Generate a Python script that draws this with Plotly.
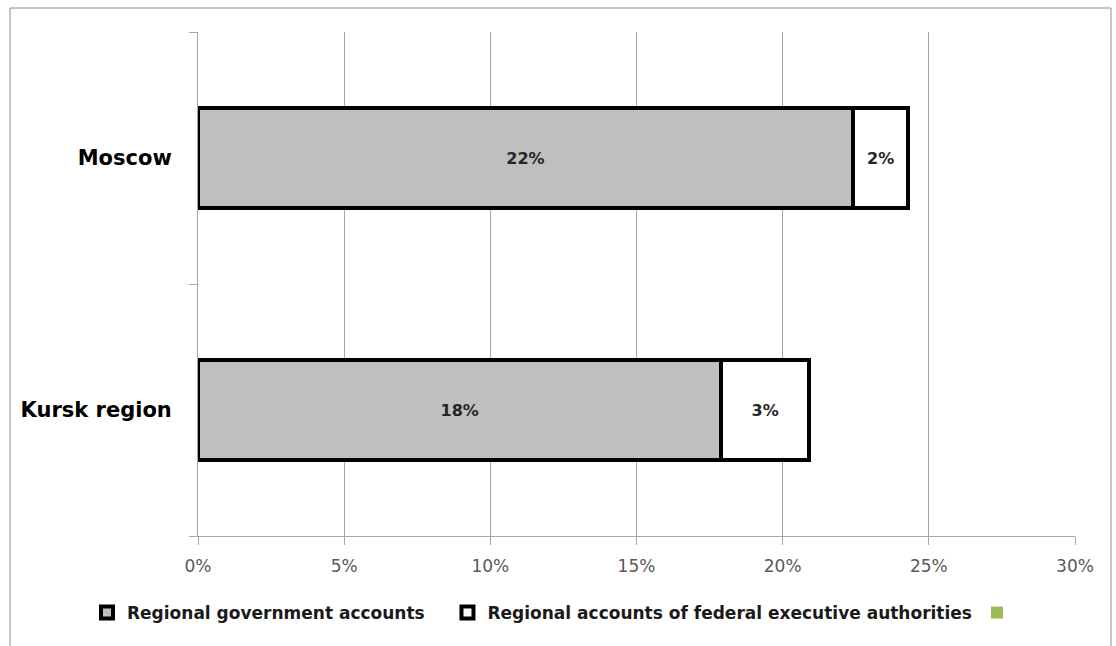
import plotly.graph_objects as go

# Share of accounts by region (fractions of total)
regions = ["Kursk region", "Moscow"]
gov_accounts = [0.179, 0.224]
federal_accounts = [0.030, 0.019]
x_ticks = [0, 0.05, 0.10, 0.15, 0.20, 0.25, 0.30]
x_tick_labels = ["0%", "5%", "10%", "15%", "20%", "25%", "30%"]
series_names = [
    "Regional government accounts",
    "Regional accounts of federal executive authorities",
]

FONT = "DejaVu Sans"
PAD = "\u00a0" * 3  # extra room after the first legend entry
L, R, T, B = 198, 41, 32, 110
W, H = 1116, 646
pw, ph = W - L - R, H - T - B

def px_x(p):
    return (p - L) / pw

def px_y(p):
    return (H - B - p) / ph

label_font = dict(family=FONT, size=16, color="#262626", weight="bold")

fig = go.Figure()
fig.add_trace(go.Bar(
    y=regions, x=gov_accounts, orientation="h",
    name=series_names[0] + PAD,
    marker=dict(color="#BFBFBF", line=dict(color="#000000", width=4)),
    text=[f"{v*100:.0f}%" for v in gov_accounts],
    textposition="inside", insidetextanchor="middle",
    textfont=label_font,
))
fig.add_trace(go.Bar(
    y=regions, x=federal_accounts, orientation="h",
    name=series_names[1],
    marker=dict(color="#FFFFFF", line=dict(color="#000000", width=4)),
    text=[f"{v*100:.0f}%" for v in federal_accounts],
    textposition="inside", insidetextanchor="middle",
    textfont=label_font,
))
fig.add_trace(go.Bar(
    y=[regions[0]], x=[None], orientation="h", name=" ",
    marker=dict(color="#9BBB59", line=dict(width=0)),
    showlegend=True,
))

fig.update_layout(
    width=W, height=H,
    barmode="stack", bargap=0.6,
    paper_bgcolor="white", plot_bgcolor="white",
    margin=dict(l=L, r=R, t=T, b=B),
    font=dict(family=FONT),
    xaxis=dict(
        range=[0, 0.30], tickvals=x_ticks, ticktext=x_tick_labels,
        showgrid=True, gridcolor="#A6A6A6", gridwidth=1,
        showline=True, linecolor="#A6A6A6", linewidth=1,
        ticks="outside", ticklen=8, tickcolor="#A6A6A6",
        ticklabelstandoff=7,
        tickfont=dict(family=FONT, size=17, color="#595959"),
        zeroline=False,
    ),
    yaxis=dict(
        range=[-0.5, 1.5], tickson="boundaries",
        showline=True, linecolor="#A6A6A6", linewidth=1,
        ticks="outside", ticklen=8, tickcolor="#A6A6A6",
        ticklabelstandoff=21,
        tickfont=dict(family=FONT, size=21, color="#000000", weight="bold"),
        showgrid=False,
    ),
    legend=dict(
        orientation="h", x=px_x(87), y=px_y(613),
        xanchor="left", yanchor="middle",
        font=dict(family=FONT, size=17, color="#1A1A1A", weight="bold"),
        traceorder="normal", itemwidth=30,
    ),
    shapes=[dict(
        type="rect", xref="paper", yref="paper",
        x0=px_x(10), x1=px_x(1111), y0=px_y(660), y1=px_y(8),
        line=dict(color="#8C8C8C", width=1), layer="below",
    )],
)

fig.write_html("out.html")
